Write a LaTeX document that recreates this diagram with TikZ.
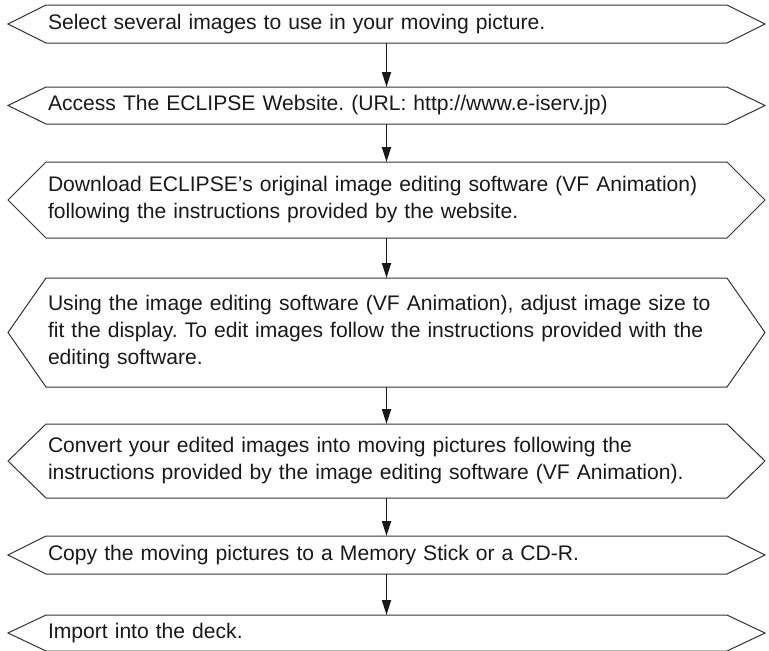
\documentclass[tikz,border=0pt]{standalone}
\usepackage{fontspec}
\setmainfont{Liberation Sans}
\frenchspacing
\usetikzlibrary{arrows.meta, positioning}
\tikzset{
  stepbox/.style = {
    rectangle, inner xsep=2pt, inner ysep=0pt, outer sep=0pt,
    text width=677pt, minimum width=681pt, align=left,
    text=black!90, font=\fontsize{21.1}{27}\selectfont
  },
  outl/.style = {draw=black!80, line width=1pt, line join=miter},
  arr/.style = {-{Triangle[length=15pt, width=9pt]}, line width=1.7pt, black!90}
}
\begin{document}
\begin{tikzpicture}

\useasboundingbox (0pt,0pt) rectangle (769pt,-651pt);

\node[stepbox, minimum height=38pt] (sel) at (386.5pt,-24pt)
      {Select several images to use in your moving picture.};

\node[stepbox, minimum height=37pt, below=44pt of sel] (acc)
      {Access The ECLIPSE Website. (URL: http://www.e-iserv.jp)};

\node[stepbox, minimum height=76pt, below=38pt of acc] (dl)
      {Download ECLIPSE’s original image editing software (VF Animation)\\
       following the instructions provided by the website.};

\node[stepbox, minimum height=109pt, below=40pt of dl] (edit)
      {Using the image editing software (VF Animation), adjust image size to\\
       fit the display. To edit images follow the instructions provided with the\\
       editing software.};

\node[stepbox, minimum height=74pt, below=37pt of edit] (conv)
      {Convert your edited images into moving pictures following the\\
       instructions provided by the image editing software (VF Animation).};

\node[stepbox, minimum height=38pt, below=38pt of conv] (copy)
      {Copy the moving pictures to a Memory Stick or a CD-R.};

\node[stepbox, minimum height=36pt, below=41pt of copy] (imp)
      {Import into the deck.};

% arrow-shaped outlines
\foreach \n in {sel, acc, dl, edit, conv, copy, imp}
  \draw[outl] (\n.north west) -- (\n.north east) -- ([xshift=38pt]\n.east)
    -- (\n.south east) -- (\n.south west) -- ([xshift=-38pt]\n.west) -- cycle;

\foreach \x/\y in {sel/acc, acc/dl, dl/edit, edit/conv, conv/copy, copy/imp}
  \draw[arr] (\x.south) -- (\y.north);

\end{tikzpicture}
\end{document}
